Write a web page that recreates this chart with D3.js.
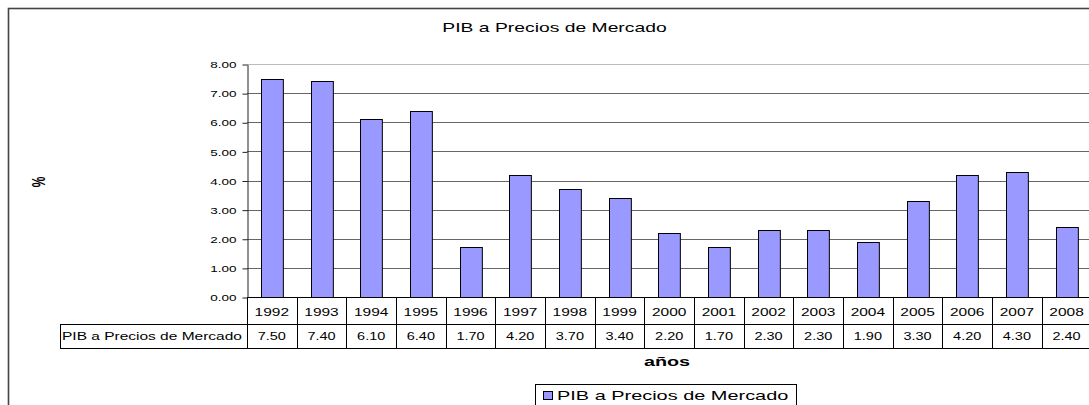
<!DOCTYPE html>
<html>
<head>
<meta charset="utf-8">
<script src="https://cdn.jsdelivr.net/npm/d3@7"></script>
<style>
  body { margin: 0; background: #fff; }
  svg { display: block; font-family: Arial, "Liberation Sans", sans-serif; }
</style>
</head>
<body>
<svg width="1089" height="405"></svg>
<script>
var svg = d3.select('svg');

// data
var years = ["1992", "1993", "1994", "1995", "1996", "1997", "1998", "1999", "2000",
             "2001", "2002", "2003", "2004", "2005", "2006", "2007", "2008"];
var values = [7.5, 7.4, 6.1, 6.4, 1.7, 4.2, 3.7, 3.4, 2.2, 1.7, 2.3, 2.3, 1.9, 3.3, 4.2, 4.3, 2.4];
var yTicks = [0, 1, 2, 3, 4, 5, 6, 7, 8];
var seriesName = "PIB a Precios de Mercado";

var left = 247, colW = 49.67;
var right = left + years.length * colW;
var plotTop = 64, base = 297, row1 = 324, row2 = 348;

// the original picture is stretched sideways, so the text is too
var sx = 1.5;

// outer frame
svg.append('rect')
  .attr('x', 8.5).attr('y', 8.5)
  .attr('width', 1200).attr('height', 500)
  .attr('fill', 'none')
  .attr('stroke', '#444')
  .attr('stroke-width', 1.6);

var x = d3.scaleBand()
  .domain(years)
  .range([left, right])
  .paddingInner(0.56)
  .paddingOuter(0.28);

var cell = d3.scaleBand()
  .domain(years)
  .range([left, right]);

var y = d3.scaleLinear()
  .domain([0, 8])
  .range([base, plotTop]);

// gridlines
svg.selectAll('.grid')
  .data(yTicks.slice(1))
  .enter()
  .append('line')
  .attr('x1', left).attr('x2', right)
  .attr('y1', function(d){ return Math.round(y(d)) + 0.5; })
  .attr('y2', function(d){ return Math.round(y(d)) + 0.5; })
  .attr('stroke', function(d){ return d === 8 ? '#bbb' : '#666'; })
  .attr('stroke-width', 1);

// bars
svg.selectAll('.bar')
  .data(values)
  .enter()
  .append('rect')
  .attr('x', function(d, i){ return Math.round(x(years[i])) + 0.5; })
  .attr('y', function(d){ return Math.round(y(d)) + 0.5; })
  .attr('width', x.bandwidth())
  .attr('height', function(d){ return Math.round(base) - Math.round(y(d)); })
  .attr('fill', '#9999ff')
  .attr('stroke', '#000')
  .attr('stroke-width', 1);

// y axis
var yAxis = svg.append('g')
  .attr('transform', 'translate(' + (left + 0.5) + ',0.5)')
  .call(d3.axisLeft(y).tickValues(yTicks).tickFormat(d3.format('.2f')).tickSize(5).tickSizeOuter(0));

yAxis.select('.domain').attr('stroke', '#222');
yAxis.selectAll('.tick line').attr('stroke', '#222');
yAxis.selectAll('.tick text')
  .attr('x', -11 / sx)
  .attr('dy', '0.35em')
  .attr('transform', 'scale(' + sx + ',1)')
  .attr('font-size', 9)
  .attr('fill', '#000');

// data table
var lines = svg.append('g').attr('stroke', '#000').attr('stroke-width', 1);

lines.append('line')
  .attr('x1', left + 0.5).attr('x2', left + 0.5)
  .attr('y1', base).attr('y2', row2 + 0.5);

lines.append('line')
  .attr('x1', left).attr('x2', right)
  .attr('y1', base + 0.5).attr('y2', base + 0.5);

lines.append('line')
  .attr('x1', 60).attr('x2', right)
  .attr('y1', row1 + 0.5).attr('y2', row1 + 0.5);

lines.append('line')
  .attr('x1', 60).attr('x2', right)
  .attr('y1', row2 + 0.5).attr('y2', row2 + 0.5);

lines.append('line')
  .attr('x1', 60.5).attr('x2', 60.5)
  .attr('y1', row1).attr('y2', row2 + 0.5);

lines.selectAll('.sep')
  .data(years)
  .enter()
  .append('line')
  .attr('x1', function(d){ return Math.round(cell(d) + cell.bandwidth()) + 0.5; })
  .attr('x2', function(d){ return Math.round(cell(d) + cell.bandwidth()) + 0.5; })
  .attr('y1', base).attr('y2', row2 + 0.5);

function stretched(g, tx, ty, s) {
  return g.append('text')
    .attr('transform', 'translate(' + tx + ',' + ty + ') scale(' + s + ',1)');
}

svg.selectAll('.year')
  .data(years)
  .enter()
  .append('text')
  .attr('transform', function(d){
    return 'translate(' + (cell(d) + cell.bandwidth() / 2) + ',' + 316 + ') scale(1.55,1)';
  })
  .attr('text-anchor', 'middle')
  .attr('font-size', 10)
  .text(function(d){ return d; });

svg.selectAll('.val')
  .data(values)
  .enter()
  .append('text')
  .attr('transform', function(d, i){
    return 'translate(' + (cell(years[i]) + cell.bandwidth() / 2) + ',' + 340 + ') scale(1.45,1)';
  })
  .attr('text-anchor', 'middle')
  .attr('font-size', 10)
  .text(function(d){ return d3.format('.2f')(d); });

stretched(svg, 62, 340, 1.55)
  .attr('font-size', 10)
  .text(seriesName);

// title and axis titles
stretched(svg, 554.5, 32, 1.61)
  .attr('text-anchor', 'middle')
  .attr('font-size', 12)
  .text(seriesName);

stretched(svg, 667, 366, 1.65)
  .attr('text-anchor', 'middle')
  .attr('font-size', 12)
  .attr('font-weight', 'bold')
  .text('años');

svg.append('text')
  .attr('transform', 'translate(45,182) rotate(-90) scale(1,1.5)')
  .attr('text-anchor', 'middle')
  .attr('font-size', 12)
  .attr('font-weight', 'bold')
  .text('%');

// legend
var legend = svg.append('g');

legend.append('rect')
  .attr('x', 535.5).attr('y', 384.5)
  .attr('width', 261).attr('height', 40)
  .attr('fill', '#fff')
  .attr('stroke', '#000');

legend.append('rect')
  .attr('x', 543.5).attr('y', 391.5)
  .attr('width', 9).attr('height', 8)
  .attr('fill', '#9999ff')
  .attr('stroke', '#000');

stretched(legend, 557, 400, 1.66)
  .attr('font-size', 12)
  .text(seriesName);
</script>
</body>
</html>
